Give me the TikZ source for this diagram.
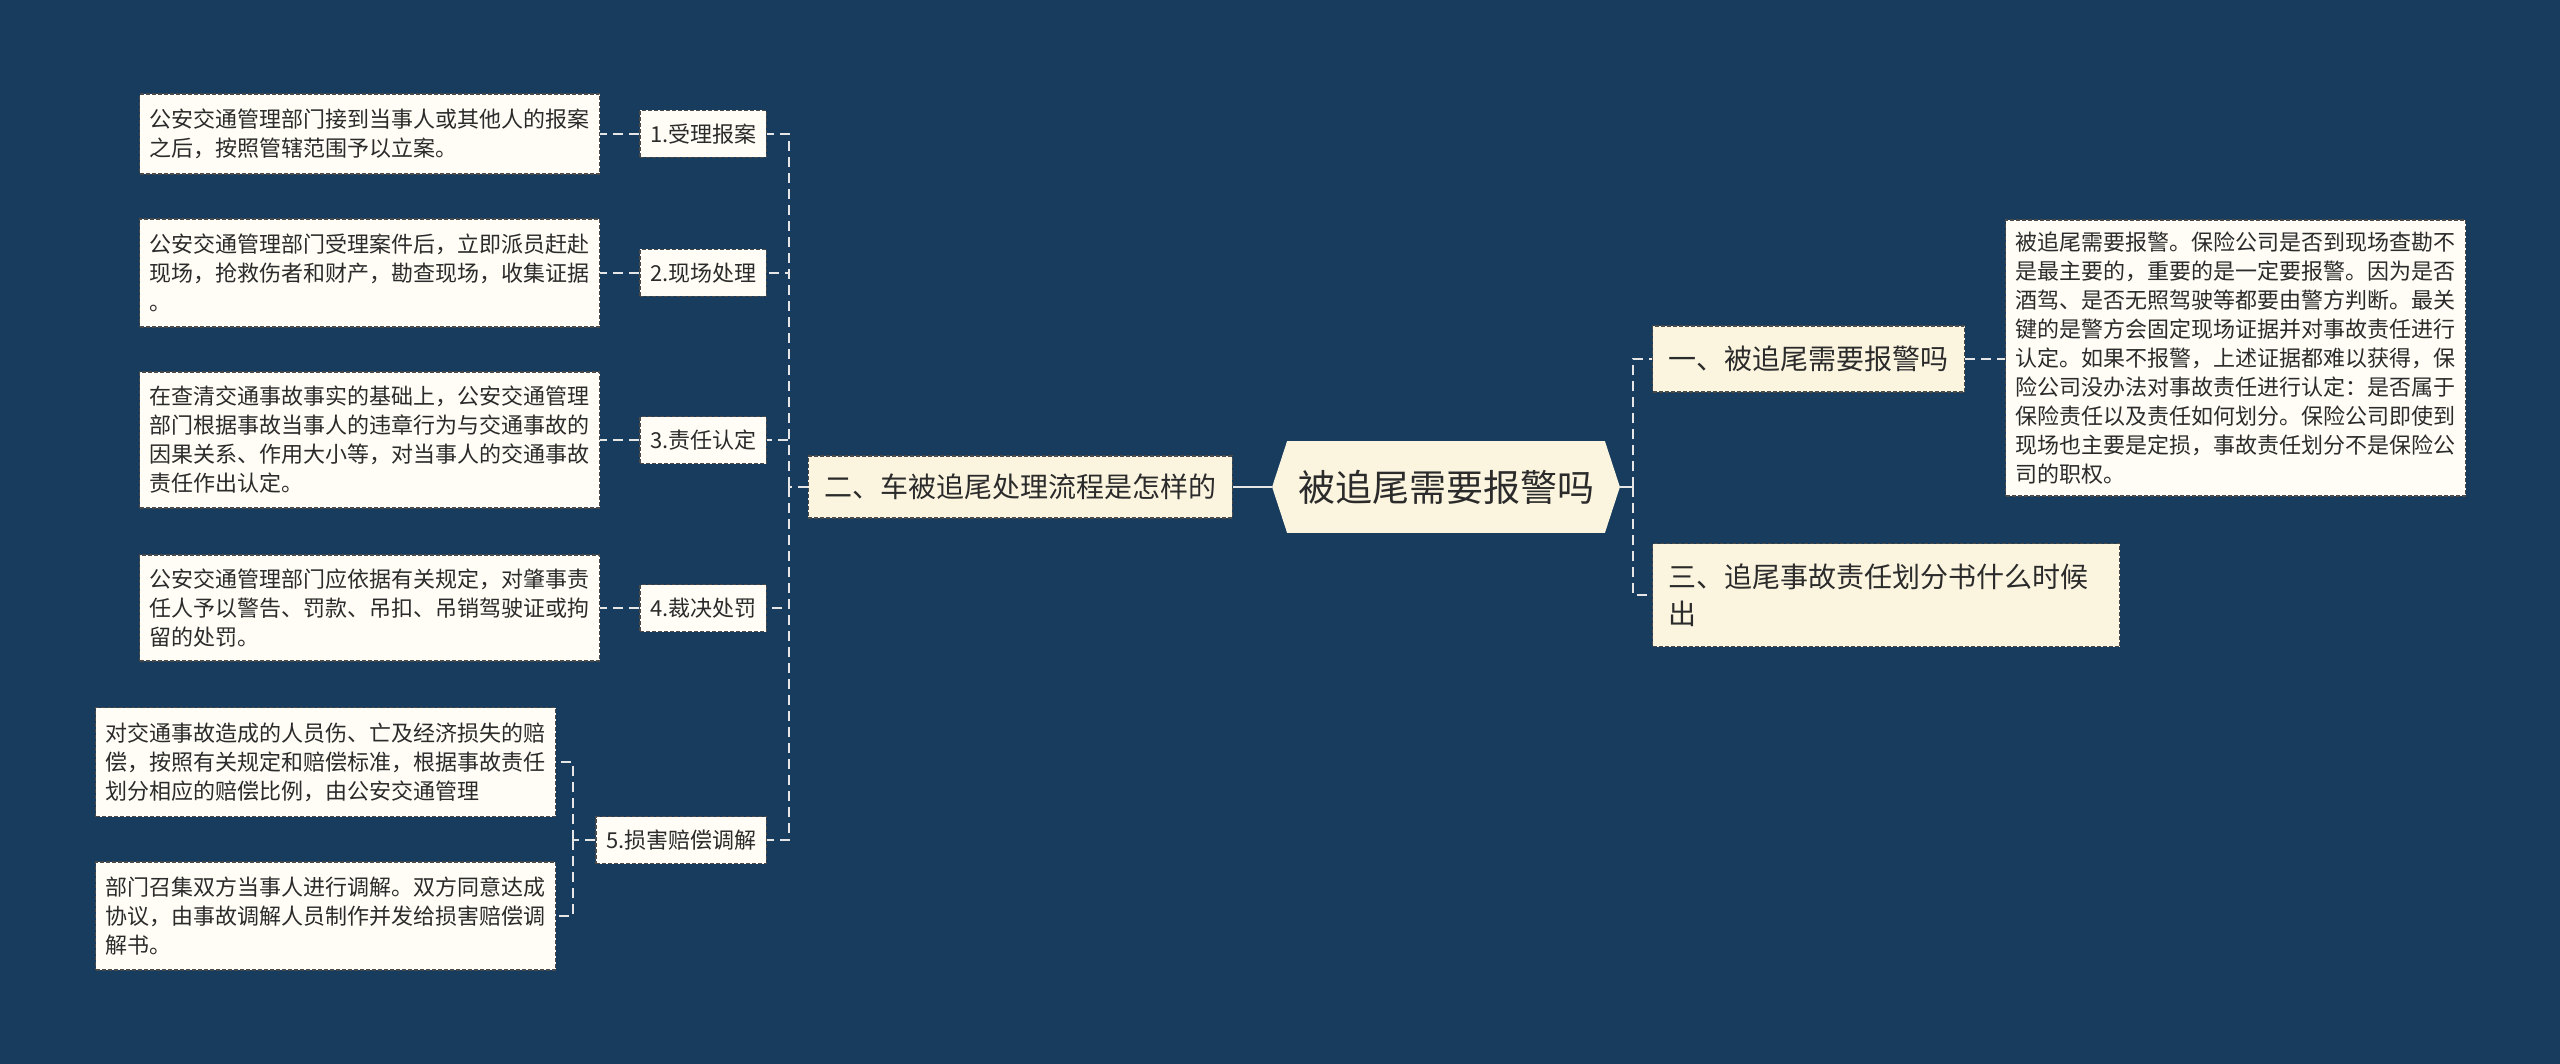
\documentclass[tikz,border=0pt]{standalone}
\usepackage{fontspec}
\newfontfamily\cjk{Noto Sans CJK SC}
\usetikzlibrary{calc}
\pgfdeclarelayer{back}
\pgfdeclarelayer{bg}
\pgfsetlayers{back,bg,main}
\definecolor{bgc}{HTML}{173C5E}
\definecolor{creamc}{HTML}{FBF5E0}
\definecolor{leafc}{HTML}{FFFDF5}
\definecolor{bordc}{HTML}{4A4A4A}
\definecolor{txtc}{HTML}{2B2B2B}
\definecolor{linec}{HTML}{E6E6E6}
\begin{document}
\begin{tikzpicture}[x=0.5pt,y=-0.5pt,
  boxline/.style={draw=bordc, line width=0.6pt, dash pattern=on 2pt off 1pt},
  leafbox/.style={boxline, fill=leafc, text=txtc, font=\cjk\fontsize{11pt}{14.5pt}\selectfont,
    text width=220pt, align=left, inner xsep=5pt, inner ysep=0pt, anchor=west},
  itembox/.style={boxline, fill=leafc, text=txtc, font=\cjk\fontsize{11pt}{13pt}\selectfont,
    minimum height=23.5pt, inner xsep=5pt, inner ysep=0pt, anchor=east},
  topicbox/.style={boxline, fill=creamc, text=txtc, font=\cjk\fontsize{14pt}{18.5pt}\selectfont,
    inner xsep=8pt, inner ysep=0pt},
  centralbox/.style={text=txtc, font=\cjk\fontsize{18.5pt}{22pt}\selectfont,
    minimum width=173.5pt, minimum height=45.5pt, inner sep=0pt},
  conn/.style={draw=linec, line width=1pt},
  dconn/.style={draw=linec, line width=1pt, dash pattern=on 5pt off 3pt}
]
\begin{pgfonlayer}{back}
\fill[bgc] (0,0) rectangle (2560,1064);
\end{pgfonlayer}
\useasboundingbox (0,0) rectangle (2560,1064);

% central
\node[centralbox] (c) at (1446,487) {被追尾需要报警吗};
\begin{pgfonlayer}{bg}
\fill[creamc] (c.west) -- ([xshift=7.5pt]c.north west) -- ([xshift=-7.5pt]c.north east)
  -- (c.east) -- ([xshift=-7.5pt]c.south east) -- ([xshift=7.5pt]c.south west) -- cycle;
\end{pgfonlayer}

% left topic
\node[topicbox, minimum height=31pt, anchor=east] (L) at (1233,487) {二、车被追尾处理流程是怎样的};

% right topics
\node[topicbox, minimum height=33pt, anchor=west] (R1) at (1652,359) {一、被追尾需要报警吗};
\node[topicbox, minimum height=51.5pt, anchor=west, text width=217.5pt, align=left] (R3) at (1652,595) {三、追尾事故责任划分书什么时候\\出};

% right leaf
\node[leafbox, minimum height=138pt] (RL) at (2005,358) {被追尾需要报警。保险公司是否到现场查勘不\\是最主要的，重要的是一定要报警。因为是否\\酒驾、是否无照驾驶等都要由警方判断。最关\\键的是警方会固定现场证据并对事故责任进行\\认定。如果不报警，上述证据都难以获得，保\\险公司没办法对事故责任进行认定：是否属于\\保险责任以及责任如何划分。保险公司即使到\\现场也主要是定损，事故责任划分不是保险公\\司的职权。};

% items
\node[itembox] (i1) at (767,134) {1.受理报案};
\node[itembox] (i2) at (767,273) {2.现场处理};
\node[itembox] (i3) at (767,440) {3.责任认定};
\node[itembox] (i4) at (767,608) {4.裁决处罚};
\node[itembox] (i5) at (767,840) {5.损害赔偿调解};

% leaves
\node[leafbox, minimum height=40pt] (f1) at (139,134) {公安交通管理部门接到当事人或其他人的报案\\之后，按照管辖范围予以立案。};
\node[leafbox, minimum height=54pt] (f2) at (139,273) {公安交通管理部门受理案件后，立即派员赶赴\\现场，抢救伤者和财产，勘查现场，收集证据\\。};
\node[leafbox, minimum height=68pt] (f3) at (139,440) {在查清交通事故事实的基础上，公安交通管理\\部门根据事故当事人的违章行为与交通事故的\\因果关系、作用大小等，对当事人的交通事故\\责任作出认定。};
\node[leafbox, minimum height=53pt] (f4) at (139,608) {公安交通管理部门应依据有关规定，对肇事责\\任人予以警告、罚款、吊扣、吊销驾驶证或拘\\留的处罚。};
\node[leafbox, minimum height=54.5pt] (f5a) at (95,762) {对交通事故造成的人员伤、亡及经济损失的赔\\偿，按照有关规定和赔偿标准，根据事故责任\\划分相应的赔偿比例，由公安交通管理};
\node[leafbox, minimum height=54pt] (f5b) at (95,916) {部门召集双方当事人进行调解。双方同意达成\\协议，由事故调解人员制作并发给损害赔偿调\\解书。};

% connectors
\coordinate (rs) at (1633,487);
\coordinate (ls) at (789,487);
\coordinate (ls5) at (573,840);
\draw[conn] (c.east) -- (rs);
\draw[dconn] (rs) |- (R1.west);
\draw[dconn] (rs) |- (R3.west);
\draw[dconn] (R1.east) -- (R1.east -| RL.west);
\draw[conn] (c.west) -- (L.east);
\draw[dconn] (L.west) -- (ls);
\draw[dconn] (ls) |- (i1.east);
\draw[dconn] (ls) |- (i2.east);
\draw[dconn] (ls) |- (i3.east);
\draw[dconn] (ls) |- (i4.east);
\draw[dconn] (ls) |- (i5.east);
\draw[dconn] (i1.west) -- (f1.east);
\draw[dconn] (i2.west) -- (f2.east);
\draw[dconn] (i3.west) -- (f3.east);
\draw[dconn] (i4.west) -- (f4.east);
\draw[dconn] (i5.west) -- (ls5);
\draw[dconn] (ls5) |- (f5a.east);
\draw[dconn] (ls5) |- (f5b.east);
\end{tikzpicture}
\end{document}
